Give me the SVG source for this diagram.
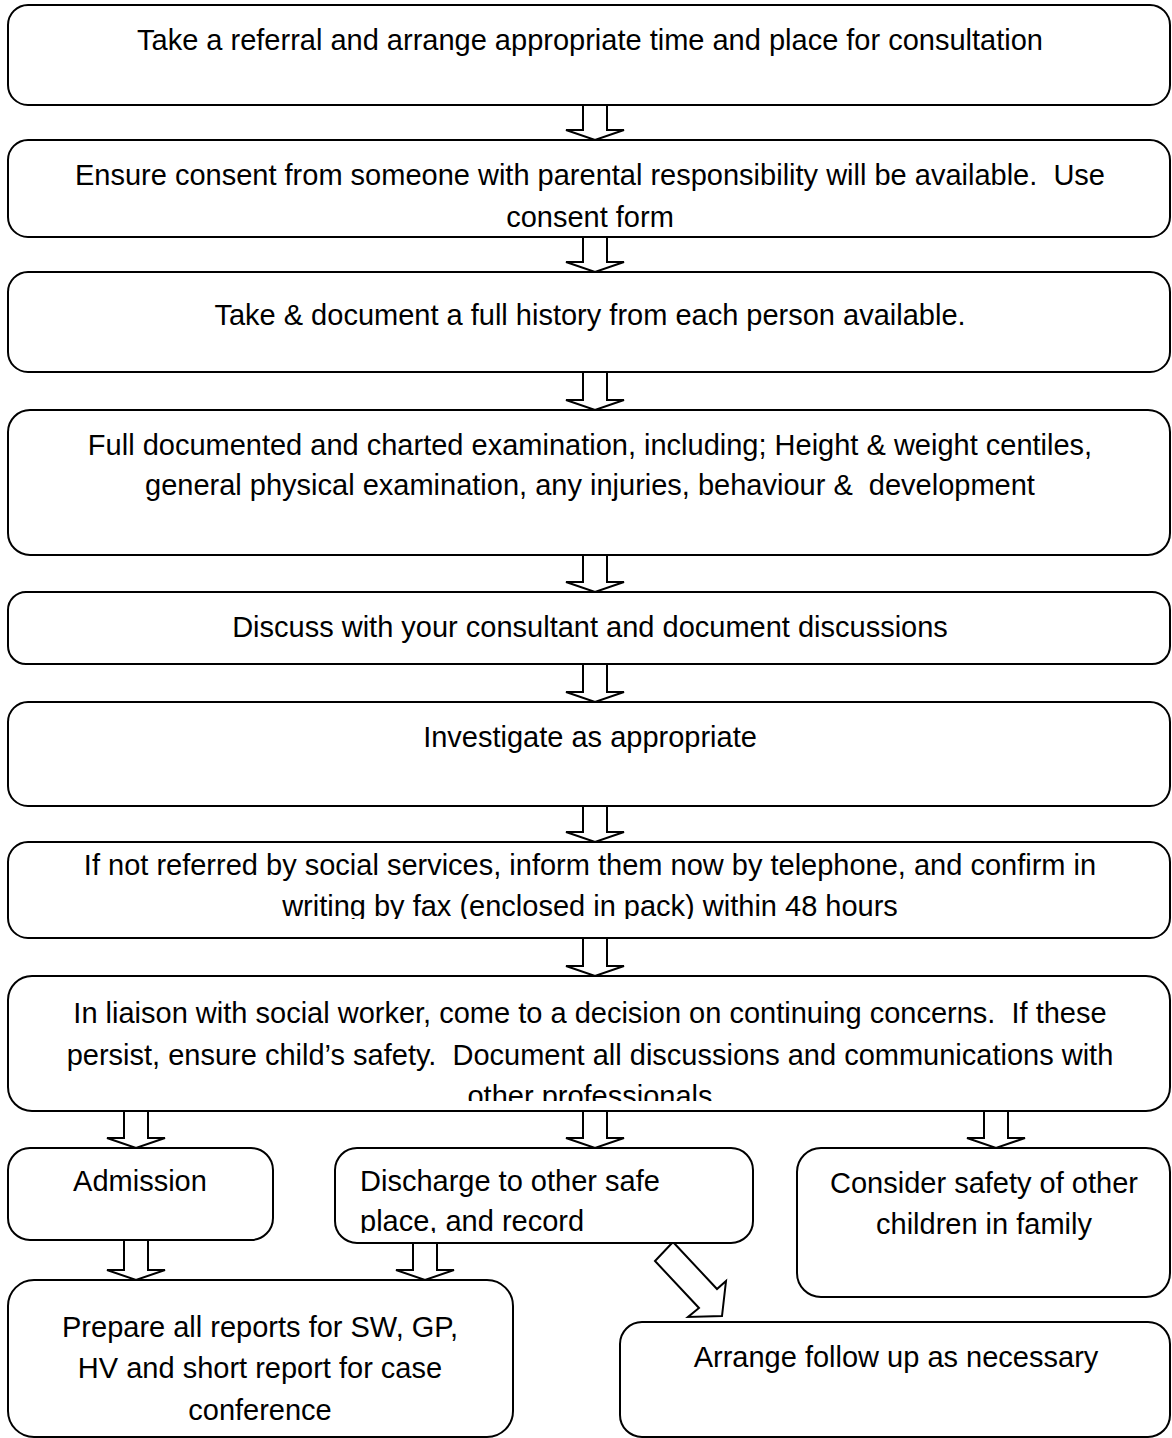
<svg xmlns="http://www.w3.org/2000/svg" width="1172" height="1438" viewBox="0 0 1172 1438">
<style>
.box{fill:#fff;stroke:#000;stroke-width:2}
.arr{fill:#fff;stroke:#000;stroke-width:2;stroke-linejoin:miter}
text{font-family:"Liberation Sans",Arial,sans-serif;font-size:29px;fill:#000;white-space:pre}
.c{text-anchor:middle}
</style>
<defs>
<clipPath id="clip7"><rect x="0" y="842" width="1172" height="77"/></clipPath>
<clipPath id="clip8"><rect x="0" y="976" width="1172" height="125"/></clipPath>
<clipPath id="clipD"><rect x="335" y="1148" width="418" height="85"/></clipPath>
</defs>
<rect width="1172" height="1438" fill="#fff"/>
<g id="connectors">
<polygon class="arr" points="583,105 607,105 607,130 624,130 595,140 566,130 583,130"/>
<polygon class="arr" points="583,237 607,237 607,262 624,262 595,272 566,262 583,262"/>
<polygon class="arr" points="583,372 607,372 607,400 624,400 595,410 566,400 583,400"/>
<polygon class="arr" points="583,555 607,555 607,582 624,582 595,592 566,582 583,582"/>
<polygon class="arr" points="583,664 607,664 607,692 624,692 595,702 566,692 583,692"/>
<polygon class="arr" points="583,806 607,806 607,832 624,832 595,842 566,832 583,832"/>
<polygon class="arr" points="583,938 607,938 607,966 624,966 595,976 566,966 583,966"/>
<polygon class="arr" points="124,1111 148,1111 148,1138 165,1138 136,1148 107,1138 124,1138"/>
<polygon class="arr" points="583,1111 607,1111 607,1138 624,1138 595,1148 566,1138 583,1138"/>
<polygon class="arr" points="984,1111 1008,1111 1008,1138 1025,1138 996,1148 967,1138 984,1138"/>
<polygon class="arr" points="124,1240 148,1240 148,1270 165,1270 136,1280 107,1270 124,1270"/>
<polygon class="arr" points="413,1243 437,1243 437,1270 454,1270 425,1280 396,1270 413,1270"/>
<polygon class="arr" points="673,1242 717,1289 726,1281 722,1316 688,1317 699,1308 655,1261"/>
</g>
<g id="n1"><rect class="box" x="8" y="5" width="1162" height="100" rx="20"/>
<text class="c" x="590" y="50">Take a referral and arrange appropriate time and place for consultation</text></g>
<g id="n2"><rect class="box" x="8" y="140" width="1162" height="97" rx="20"/>
<text class="c" x="590" y="185">Ensure consent from someone with parental responsibility will be available.  Use</text>
<text class="c" x="590" y="227">consent form</text></g>
<g id="n3"><rect class="box" x="8" y="272" width="1162" height="100" rx="20"/>
<text class="c" x="590" y="325">Take &amp; document a full history from each person available.</text></g>
<g id="n4"><rect class="box" x="8" y="410" width="1162" height="145" rx="22"/>
<text class="c" x="590" y="455">Full documented and charted examination, including; Height &amp; weight centiles,</text>
<text class="c" x="590" y="495">general physical examination, any injuries, behaviour &amp;  development</text></g>
<g id="n5"><rect class="box" x="8" y="592" width="1162" height="72" rx="18"/>
<text class="c" x="590" y="637">Discuss with your consultant and document discussions</text></g>
<g id="n6"><rect class="box" x="8" y="702" width="1162" height="104" rx="20"/>
<text class="c" x="590" y="747">Investigate as appropriate</text></g>
<g id="n7"><rect class="box" x="8" y="842" width="1162" height="96" rx="20"/>
<text class="c" x="590" y="875">If not referred by social services, inform them now by telephone, and confirm in</text>
<text class="c" x="590" y="916" clip-path="url(#clip7)">writing by fax (enclosed in pack) within 48 hours</text></g>
<g id="n8"><rect class="box" x="8" y="976" width="1162" height="135" rx="24"/>
<text class="c" x="590" y="1023">In liaison with social worker, come to a decision on continuing concerns.  If these</text>
<text class="c" x="590" y="1065">persist, ensure child’s safety.  Document all discussions and communications with</text>
<text class="c" x="590" y="1106" clip-path="url(#clip8)">other professionals</text></g>
<g id="n9"><rect class="box" x="8" y="1148" width="265" height="92" rx="22"/>
<text class="c" x="140" y="1191">Admission</text></g>
<g id="n10"><rect class="box" x="335" y="1148" width="418" height="95" rx="22"/>
<text x="360" y="1191">Discharge to other safe</text>
<text x="360" y="1231" clip-path="url(#clipD)">place, and record</text></g>
<g id="n11"><rect class="box" x="797" y="1148" width="373" height="149" rx="24"/>
<text class="c" x="984" y="1193">Consider safety of other</text>
<text class="c" x="984" y="1234">children in family</text></g>
<g id="n12"><rect class="box" x="8" y="1280" width="505" height="157" rx="26"/>
<text class="c" x="260" y="1337">Prepare all reports for SW, GP,</text>
<text class="c" x="260" y="1378">HV and short report for case</text>
<text class="c" x="260" y="1420">conference</text></g>
<g id="n13"><rect class="box" x="620" y="1322" width="550" height="115" rx="22"/>
<text class="c" x="896" y="1367">Arrange follow up as necessary</text></g>
</svg>
